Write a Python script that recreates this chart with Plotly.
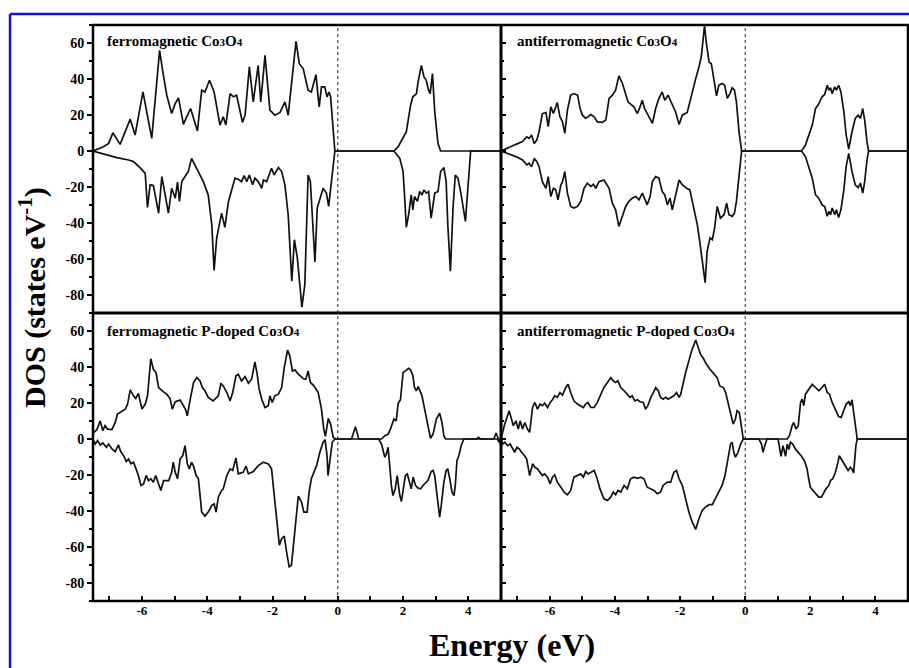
import plotly.graph_objects as go

# ---------------- data (energy in eV, DOS in states/eV) ----------------
fm_up_e = [-7.50,-7.18,-7.02,-6.89,-6.67,-6.36,-6.21,-5.97,-5.70,-5.46,-5.36,-5.24,-5.09,-4.98,-4.88,-4.73,-4.63,-4.51,-4.30,-4.17,-4.07,-3.93,-3.79,-3.61,-3.51,-3.43,-3.30,-3.20,-3.10,-2.92,-2.84,-2.71,-2.59,-2.44,-2.36,-2.23,-2.08,-1.93,-1.77,-1.62,-1.52,-1.28,-1.18,-1.06,-0.91,-0.81,-0.67,-0.57,-0.50,-0.40,-0.33,-0.27,-0.22,-0.09,0.0,
           1.72,1.85,2.00,2.10,2.23,2.30,2.41,2.46,2.56,2.64,2.71,2.78,2.83,2.90,2.97,3.07,3.15,5.0]
fm_up_v = [0,2.4,4.2,10.1,3.7,17.7,8.9,32.8,7.0,55.9,43.9,31.0,20.8,26.4,29.5,14.8,19.0,23.6,11.1,33.8,32.8,39.3,32.8,14.4,19.0,14.4,31.9,30.1,31.0,15.9,19.9,46.7,27.3,47.6,27.3,53.1,22.7,19.9,21.4,27.3,19.9,60.9,48.5,45.8,33.8,32.8,42.4,24.5,35.6,35.6,30.1,32.8,30.1,0,0,
           0,2.4,7.0,10.7,25.5,30.1,31.9,38.4,47.6,41.1,39.3,33.8,31.9,43.0,21.8,4.2,0,0]
fm_dn_e = [-7.50,-7.07,-6.77,-6.41,-6.26,-6.06,-5.90,-5.83,-5.75,-5.65,-5.49,-5.39,-5.29,-5.19,-5.09,-4.98,-4.91,-4.85,-4.78,-4.58,-4.48,-4.27,-4.12,-3.97,-3.86,-3.79,-3.71,-3.56,-3.46,-3.35,-3.15,-3.05,-2.95,-2.87,-2.79,-2.71,-2.61,-2.54,-2.44,-2.33,-2.28,-2.18,-2.03,-1.95,-1.82,-1.72,-1.62,-1.52,-1.41,-1.33,-1.24,-1.10,-1.01,-0.91,-0.84,-0.70,-0.63,-0.45,-0.35,-0.28,-0.22,-0.09,0.0,
           1.72,1.90,2.00,2.05,2.10,2.17,2.25,2.30,2.35,2.44,2.51,2.58,2.64,2.71,2.78,2.86,2.97,3.07,3.15,3.25,3.32,3.37,3.45,3.53,3.60,3.68,3.78,3.91,3.99,4.07,5.0]
fm_dn_v = [0,-2.2,-3.7,-5.0,-5.9,-9.2,-12.4,-31.4,-18.8,-19.2,-34.5,-14.2,-24.4,-34.5,-20.7,-26.2,-17.3,-28.0,-17.0,-11.4,-4.1,-11.4,-17.0,-24.4,-41.0,-66.4,-48.3,-34.5,-42.4,-28.0,-15.1,-15.7,-17.0,-13.7,-17.0,-13.3,-18.8,-15.1,-17.0,-20.7,-16.1,-17.0,-9.6,-13.3,-9.2,-11.4,-18.8,-35.4,-72.3,-49.3,-59.4,-86.7,-74.2,-13.3,-17.0,-61.6,-31.7,-20.7,-23.4,-30.8,-20.7,0,0,
           0,-4.1,-11.4,-26.2,-42.4,-35.4,-24.4,-32.7,-25.3,-28.0,-22.5,-24.4,-21.6,-23.4,-22.5,-37.3,-23.4,-22.5,-11.4,-9.2,-17.0,-41.0,-66.8,-31.7,-13.3,-15.1,-24.4,-39.1,-18.8,0,0]

af_up_e = [-7.50,-7.30,-7.04,-6.84,-6.71,-6.64,-6.56,-6.48,-6.40,-6.33,-6.23,-6.12,-6.05,-5.97,-5.89,-5.77,-5.69,-5.61,-5.54,-5.46,-5.36,-5.26,-5.15,-5.07,-5.00,-4.90,-4.83,-4.74,-4.64,-4.54,-4.39,-4.28,-4.18,-4.08,-3.98,-3.88,-3.77,-3.70,-3.60,-3.42,-3.31,-3.23,-3.16,-3.09,-2.99,-2.85,-2.75,-2.65,-2.55,-2.47,-2.37,-2.24,-2.14,-2.03,-1.93,-1.78,-1.63,-1.52,-1.42,-1.35,-1.29,-1.25,-1.19,-1.11,-1.04,-0.96,-0.88,-0.81,-0.71,-0.63,-0.55,-0.47,-0.40,-0.33,-0.27,-0.19,-0.11,0.0,
           1.73,1.85,1.95,2.06,2.16,2.24,2.31,2.36,2.44,2.52,2.57,2.62,2.67,2.75,2.80,2.87,2.94,3.03,3.10,3.18,3.28,3.38,3.47,3.54,3.61,3.67,3.74,3.79,5.0]
af_up_v = [0,1.8,3.7,5.2,7.9,7.0,8.9,4.2,6.1,10.7,20.8,21.4,13.5,24.5,20.8,26.9,19.0,16.2,9.8,22.7,31.0,31.9,31.0,23.6,19.9,18.1,19.0,20.3,19.0,16.2,15.9,17.2,29.2,31.0,33.8,41.7,37.5,32.8,27.3,24.5,20.8,24.5,28.2,23.6,20.3,15.3,23.6,29.2,32.8,28.2,31.0,25.5,21.8,14.8,19.9,21.4,32.8,40.2,46.7,52.2,62.4,69.7,59.6,49.4,48.5,40.2,30.6,36.5,37.5,36.5,29.2,31.9,35.1,33.8,27.3,10.7,0,0,
           0,3.3,8.9,14.4,23.6,25.5,28.2,30.1,31.4,36.5,33.8,35.1,31.9,35.6,33.8,36.5,32.8,21.8,8.9,1.1,10.7,18.1,19.9,18.1,23.6,17.2,5.2,0,0]
af_dn_e = [-7.50,-7.30,-7.04,-6.84,-6.71,-6.64,-6.56,-6.48,-6.40,-6.33,-6.23,-6.12,-6.05,-5.97,-5.89,-5.82,-5.75,-5.66,-5.61,-5.54,-5.46,-5.36,-5.26,-5.15,-5.05,-4.95,-4.85,-4.74,-4.66,-4.59,-4.49,-4.34,-4.18,-4.08,-3.98,-3.88,-3.77,-3.67,-3.57,-3.47,-3.36,-3.26,-3.16,-3.09,-3.01,-2.92,-2.85,-2.75,-2.65,-2.55,-2.47,-2.39,-2.31,-2.24,-2.14,-2.03,-1.93,-1.80,-1.70,-1.57,-1.47,-1.39,-1.32,-1.27,-1.23,-1.17,-1.08,-1.01,-0.94,-0.86,-0.76,-0.65,-0.57,-0.50,-0.40,-0.33,-0.27,-0.19,-0.11,0.0,
           1.73,1.85,1.95,2.06,2.16,2.24,2.31,2.36,2.44,2.52,2.57,2.62,2.67,2.75,2.80,2.87,2.94,3.03,3.10,3.18,3.28,3.38,3.47,3.54,3.61,3.67,3.74,3.79,5.0]
af_dn_v = [0,-1.3,-3.1,-5.0,-7.7,-6.8,-8.7,-4.1,-5.9,-8.7,-17.0,-20.7,-14.2,-25.3,-20.7,-21.6,-27.1,-18.8,-17.0,-11.4,-23.4,-30.8,-31.7,-30.8,-28.0,-20.7,-17.9,-19.7,-18.5,-20.7,-17.0,-16.1,-20.7,-29.0,-32.7,-41.9,-36.3,-30.8,-28.0,-26.2,-25.3,-27.1,-23.4,-26.2,-29.9,-25.3,-17.0,-14.2,-15.1,-22.5,-24.4,-29.9,-26.2,-32.7,-24.4,-16.1,-18.8,-20.7,-21.6,-33.6,-41.0,-51.1,-59.4,-67.7,-73.2,-55.7,-48.3,-49.3,-42.8,-30.8,-37.3,-35.4,-29.0,-35.4,-36.3,-34.5,-28.0,-15.1,0,0,
           0,-3.1,-8.7,-15.1,-24.4,-25.8,-28.0,-29.9,-30.8,-36.3,-33.6,-35.4,-31.7,-35.4,-32.7,-37.0,-32.7,-21.6,-8.7,-1.3,-11.4,-18.8,-20.3,-17.9,-23.4,-17.0,-5.0,0,0]

fmp_up_e = [-7.50,-7.38,-7.28,-7.20,-7.13,-7.05,-6.92,-6.82,-6.75,-6.67,-6.59,-6.51,-6.44,-6.36,-6.26,-6.19,-6.11,-6.00,-5.90,-5.83,-5.73,-5.65,-5.57,-5.49,-5.34,-5.24,-5.14,-5.07,-4.98,-4.83,-4.67,-4.61,-4.53,-4.42,-4.32,-4.22,-4.15,-4.07,-3.97,-3.82,-3.66,-3.58,-3.51,-3.40,-3.30,-3.22,-3.12,-3.05,-2.95,-2.84,-2.74,-2.64,-2.54,-2.47,-2.41,-2.33,-2.23,-2.13,-2.08,-2.01,-1.93,-1.82,-1.72,-1.64,-1.54,-1.47,-1.39,-1.31,-1.21,-1.06,-0.98,-0.91,-0.84,-0.73,-0.60,-0.50,-0.43,-0.38,-0.29,-0.22,-0.14,-0.06,0.0,
            0.42,0.54,0.64,1.34,1.44,1.54,1.62,1.72,1.79,1.85,1.92,2.00,2.07,2.17,2.23,2.30,2.35,2.41,2.46,2.51,2.58,2.66,2.76,2.84,2.92,3.02,3.12,3.19,3.25,3.30,4.25,4.31,4.37,4.78,4.85,4.92,5.0]
fmp_up_v = [3.3,5.2,10.1,4.6,7.4,5.5,5.2,9.2,13.8,14.8,15.7,16.6,19.4,27.3,24.0,22.5,25.3,16.6,19.4,24.0,44.6,38.7,36.9,28.6,26.2,24.9,22.5,16.6,20.7,21.6,16.6,12.9,21.2,31.4,34.1,32.3,28.6,26.8,23.1,21.2,24.0,31.0,29.5,25.8,21.2,25.8,35.1,36.0,32.3,34.7,31.0,33.2,42.8,36.0,27.7,22.1,17.5,18.5,24.0,20.3,24.0,24.9,28.6,39.7,49.4,46.1,37.8,38.4,36.0,33.6,33.2,37.8,31.4,29.5,25.8,16.6,5.5,1.5,11.4,8.3,0.9,0,0,
            0,6.8,0,0,1.8,2.6,5.9,11.1,10.1,19.9,21.8,36.9,37.8,39.3,38.4,35.1,28.6,26.8,29.2,26.8,24.0,16.6,7.4,0.4,2.8,11.1,14.4,9.2,1.8,0,0,0.9,0,0,3.3,0,0]
fmp_dn_e = [-7.50,-7.43,-7.36,-7.28,-7.20,-7.09,-7.02,-6.92,-6.82,-6.72,-6.65,-6.56,-6.48,-6.41,-6.34,-6.26,-6.18,-6.11,-6.03,-5.95,-5.87,-5.80,-5.73,-5.65,-5.58,-5.49,-5.42,-5.34,-5.18,-5.09,-5.04,-4.98,-4.91,-4.83,-4.75,-4.68,-4.61,-4.55,-4.48,-4.42,-4.34,-4.27,-4.17,-4.07,-3.97,-3.86,-3.79,-3.73,-3.66,-3.56,-3.51,-3.40,-3.30,-3.22,-3.12,-3.05,-2.90,-2.81,-2.74,-2.59,-2.44,-2.28,-2.13,-2.03,-1.96,-1.88,-1.79,-1.72,-1.64,-1.57,-1.49,-1.42,-1.35,-1.26,-1.21,-1.11,-1.04,-0.94,-0.88,-0.81,-0.73,-0.65,-0.55,-0.45,-0.39,-0.33,-0.30,-0.24,-0.17,-0.09,0.0,
            1.25,1.34,1.39,1.44,1.49,1.54,1.59,1.64,1.69,1.76,1.82,1.90,1.95,2.00,2.07,2.13,2.20,2.25,2.31,2.38,2.46,2.54,2.61,2.68,2.76,2.86,2.92,2.97,3.02,3.09,3.12,3.17,3.25,3.32,3.37,3.43,3.50,3.56,3.60,3.65,3.71,3.78,3.86,4.88,4.95,5.0]
fmp_dn_v = [-0.4,-2.8,-0.9,-3.3,-2.2,-4.6,-2.8,-5.5,-7.0,-3.3,-7.0,-9.2,-12.5,-11.1,-13.8,-12.9,-16.6,-20.3,-25.8,-24.9,-20.3,-23.1,-22.1,-24.0,-20.3,-24.4,-28.6,-23.1,-23.1,-18.5,-12.9,-18.5,-22.1,-11.1,-9.2,-3.7,-13.8,-16.6,-12.9,-15.1,-20.3,-22.1,-40.6,-42.8,-40.6,-36.9,-36.0,-40.6,-32.3,-28.6,-27.7,-20.3,-16.6,-17.5,-10.5,-19.4,-18.5,-15.1,-19.4,-18.1,-14.8,-12.9,-13.8,-16.6,-29.5,-40.6,-59.0,-55.4,-53.9,-62.7,-71.0,-70.1,-58.1,-42.4,-31.7,-35.1,-40.6,-40.6,-29.5,-22.1,-18.5,-14.8,-7.4,-1.8,-0.4,-9.2,-20.3,-11.1,-1.8,0,0,
            0,-2.8,-7.4,-10.1,-8.3,-4.6,-14.8,-25.8,-31.4,-27.7,-20.3,-31.4,-34.7,-27.7,-20.3,-19.4,-24.0,-27.7,-21.2,-25.8,-27.3,-27.7,-25.8,-24.4,-23.1,-18.1,-17.5,-20.3,-27.7,-36.9,-43.4,-36.9,-24.0,-17.5,-16.6,-22.1,-29.5,-31.4,-25.8,-12.0,-9.2,-3.7,0,0,-1.8,0]

afp_up_e = [-7.50,-7.40,-7.25,-7.18,-7.12,-7.04,-6.97,-6.91,-6.84,-6.77,-6.69,-6.62,-6.53,-6.46,-6.38,-6.30,-6.23,-6.16,-6.07,-5.99,-5.92,-5.85,-5.77,-5.69,-5.61,-5.51,-5.44,-5.36,-5.26,-5.15,-5.05,-4.97,-4.90,-4.83,-4.74,-4.64,-4.54,-4.44,-4.34,-4.23,-4.13,-4.05,-3.98,-3.91,-3.82,-3.72,-3.62,-3.54,-3.47,-3.39,-3.31,-3.23,-3.13,-3.06,-2.99,-2.90,-2.82,-2.75,-2.67,-2.60,-2.52,-2.44,-2.37,-2.29,-2.19,-2.11,-2.03,-1.98,-1.93,-1.83,-1.73,-1.63,-1.52,-1.45,-1.37,-1.27,-1.19,-1.08,-0.96,-0.86,-0.78,-0.67,-0.60,-0.53,-0.45,-0.37,-0.30,-0.25,-0.18,-0.12,-0.06,0.0,
            1.29,1.36,1.44,1.49,1.56,1.63,1.70,1.75,1.80,1.85,1.95,2.06,2.16,2.26,2.36,2.44,2.52,2.59,2.67,2.77,2.87,2.95,3.03,3.10,3.18,3.23,3.28,3.33,3.38,3.44,5.0]
afp_up_v = [0,7.4,15.7,11.1,7.4,10.1,5.5,10.1,5.5,9.2,5.5,3.7,17.5,20.3,16.6,19.4,18.5,19.9,17.5,20.3,21.8,24.0,23.1,25.8,24.4,28.6,30.4,25.8,21.2,19.4,18.5,17.5,19.4,20.3,17.5,17.5,20.3,24.9,28.6,31.4,34.1,32.3,31.4,32.3,28.6,26.8,24.9,23.1,24.0,21.2,21.8,20.7,20.3,16.6,18.5,23.1,25.8,28.6,26.8,23.1,22.1,23.1,22.1,23.1,24.0,25.8,23.1,24.9,29.5,36.9,43.4,49.8,55.0,51.7,47.0,44.3,41.5,38.7,36.0,34.1,29.5,28.6,25.8,20.3,14.8,8.3,11.1,15.7,14.8,6.5,0,0,
            0,1.8,7.4,9.2,5.5,7.4,20.3,22.1,18.5,24.9,27.7,30.4,28.6,26.8,28.6,30.4,25.8,24.9,20.3,16.6,12.5,12.0,16.6,19.4,20.7,18.5,21.8,14.8,5.5,0,0]
afp_dn_e = [-7.50,-7.45,-7.38,-7.30,-7.22,-7.15,-7.08,-7.01,-6.94,-6.87,-6.79,-6.71,-6.62,-6.53,-6.46,-6.38,-6.30,-6.23,-6.16,-6.07,-5.99,-5.92,-5.85,-5.77,-5.66,-5.56,-5.46,-5.36,-5.26,-5.15,-5.05,-4.97,-4.90,-4.83,-4.74,-4.64,-4.56,-4.46,-4.34,-4.23,-4.13,-4.05,-3.98,-3.91,-3.82,-3.72,-3.62,-3.52,-3.42,-3.31,-3.21,-3.11,-3.01,-2.90,-2.80,-2.70,-2.60,-2.52,-2.39,-2.29,-2.19,-2.11,-2.03,-1.93,-1.83,-1.73,-1.63,-1.52,-1.42,-1.32,-1.22,-1.11,-1.01,-0.91,-0.81,-0.71,-0.62,-0.53,-0.45,-0.40,-0.35,-0.30,-0.22,-0.14,-0.06,0.0,
            0.42,0.50,0.55,0.60,0.67,1.01,1.05,1.10,1.16,1.21,1.24,1.29,1.34,1.39,1.46,1.54,1.63,1.73,1.83,1.90,1.95,2.00,2.08,2.16,2.26,2.34,2.41,2.48,2.57,2.62,2.69,2.77,2.85,2.89,2.95,3.03,3.10,3.16,3.23,3.28,3.33,3.36,3.40,3.44,5.0]
afp_dn_v = [0,-2.8,-1.8,-3.7,-2.8,-5.5,-7.4,-4.6,-5.5,-7.4,-8.9,-11.1,-20.3,-13.8,-15.7,-16.6,-18.5,-20.3,-19.4,-21.2,-24.9,-21.2,-19.9,-24.0,-26.8,-29.5,-31.0,-28.6,-21.2,-20.3,-19.4,-21.2,-18.1,-19.4,-18.5,-17.5,-21.2,-27.7,-33.2,-34.1,-32.3,-29.5,-31.0,-28.6,-29.5,-25.8,-27.7,-22.1,-21.2,-21.8,-21.2,-22.1,-26.8,-27.7,-28.6,-30.4,-29.5,-25.8,-24.0,-24.0,-18.5,-17.5,-22.1,-25.8,-33.2,-40.6,-46.1,-50.2,-44.3,-39.7,-37.8,-36.5,-36.5,-33.2,-29.5,-25.8,-20.3,-11.1,-2.8,-1.8,-7.4,-10.1,-7.4,-2.8,0,0,
            0,-2.8,-7.4,-3.7,0,0,-4.6,-9.6,-3.7,-7.4,-9.6,-2.8,-5.9,-1.8,-2.8,-5.5,-7.4,-9.6,-12.5,-16.6,-22.1,-26.8,-28.6,-30.4,-32.3,-32.3,-29.5,-27.7,-25.8,-23.1,-22.1,-18.5,-12.9,-9.2,-11.1,-13.8,-15.7,-17.5,-15.7,-16.6,-18.8,-9.2,-3.7,0,0]

panel_titles = ["ferromagnetic Co3O4", "antiferromagnetic Co3O4",
                "ferromagnetic P-doped Co3O4", "antiferromagnetic P-doped Co3O4"]
x_ticks = [-6, -4, -2, 0, 2, 4]
y_ticks = [-80, -60, -40, -20, 0, 20, 40, 60]

panels = [
    (fm_up_e, fm_up_v, fm_dn_e, fm_dn_v),
    (af_up_e, af_up_v, af_dn_e, af_dn_v),
    (fmp_up_e, fmp_up_v, fmp_dn_e, fmp_dn_v),
    (afp_up_e, afp_up_v, afp_dn_e, afp_dn_v),
]
for p in panels:
    assert len(p[0]) == len(p[1]) and len(p[2]) == len(p[3]), [len(a) for a in p]

# ---------------- figure ----------------
W, H = 909, 668
SERIF = "Liberation Serif, Times New Roman, serif"
fig = go.Figure()

L, MX, R = 93, 501, 908
T, MY, B = 25, 313, 601
xdom = [[L / W, MX / W], [MX / W, R / W]]
ydom = [[1 - MY / H, 1 - T / H], [1 - B / H, 1 - MY / H]]

for i, (ue, uv, de, dv) in enumerate(panels):
    sfx = "" if i == 0 else str(i + 1)
    for ex, vy in ((ue, uv), (de, dv)):
        fig.add_trace(go.Scatter(x=ex, y=vy, mode="lines", xaxis="x" + sfx, yaxis="y" + sfx,
                                 line=dict(color="#111111", width=1.7),
                                 showlegend=False, hoverinfo="skip"))
    row, col = divmod(i, 2)
    bottom = row == 1
    left = col == 0
    fig.layout["xaxis" + sfx] = dict(
        domain=xdom[col], anchor="y" + sfx, range=[-7.5, 5],
        showline=False, showgrid=False, zeroline=False,
        tickmode="array", tickvals=x_ticks, ticktext=[str(t) for t in x_ticks],
        ticks="inside" if bottom else "", ticklen=5, tickwidth=1.5, tickcolor="black",
        minor=dict(dtick=1, tick0=0, ticks="inside" if bottom else "", ticklen=5, tickwidth=1.5, tickcolor="black"),
        showticklabels=bottom,
        tickfont=dict(family=SERIF, size=13, color="black", weight="bold"),
    )
    fig.layout["yaxis" + sfx] = dict(
        domain=ydom[row], anchor="x" + sfx, range=[-90, 70],
        showline=False, showgrid=False, zeroline=False,
        tickmode="array", tickvals=y_ticks, ticktext=[str(t) for t in y_ticks],
        ticks="outside" if left else "inside", ticklen=5, tickwidth=1.5, tickcolor="black",
        minor=dict(dtick=10, tick0=0, ticks="outside" if left else "inside", ticklen=3, tickwidth=1.5, tickcolor="black"),
        showticklabels=left,
        tickfont=dict(family=SERIF, size=14, color="black", weight="bold"),
    )
    # Fermi level (dotted)
    fig.add_shape(type="line", xref="x" + sfx, yref="y" + sfx + " domain",
                  x0=0, x1=0, y0=0, y1=1, line=dict(color="#222222", width=1, dash="dot"))
    # panel label
    name = panel_titles[i].replace("Co3O4", 'Co<span style="font-size:11px">3</span>O<span style="font-size:11px">4</span>')
    fig.add_annotation(x=(105 if left else 515) / W, y=1 - (41 if not bottom else 331) / H,
                       xref="paper", yref="paper", xanchor="left", yanchor="middle",
                       text="<b>" + name + "</b>", showarrow=False,
                       font=dict(family=SERIF, size=15, color="black"))

# panel frames
frame = dict(color="black", width=2.5)
fig.add_shape(type="rect", xref="paper", yref="paper", x0=L / W, x1=R / W, y0=1 - B / H, y1=1 - T / H,
              line=frame, layer="above")
fig.add_shape(type="line", xref="paper", yref="paper", x0=L / W, x1=R / W, y0=1 - MY / H, y1=1 - MY / H,
              line=dict(color="black", width=3), layer="above")
fig.add_shape(type="line", xref="paper", yref="paper", x0=MX / W, x1=MX / W, y0=1 - B / H, y1=1 - T / H,
              line=dict(color="black", width=3), layer="above")

# axis titles
fig.add_annotation(x=32 / W, y=1 - 298 / H, xref="paper", yref="paper", textangle=-90,
                   text="<b>DOS (states eV<sup>-1</sup>)</b>", showarrow=False,
                   xanchor="center", yanchor="middle",
                   font=dict(family=SERIF, size=30, color="black"))
fig.add_annotation(x=512 / W, y=1 - 645 / H, xref="paper", yref="paper",
                   text="<b>Energy (eV)</b>", showarrow=False,
                   xanchor="center", yanchor="middle",
                   font=dict(family=SERIF, size=32, color="black"))

# blue frame (top and left edges visible)
fig.add_shape(type="line", xref="paper", yref="paper", x0=10 / W, x1=1.0, y0=1 - 14 / H, y1=1 - 14 / H,
              line=dict(color="#1414d2", width=2.5))
fig.add_shape(type="line", xref="paper", yref="paper", x0=10 / W, x1=10 / W, y0=1 - 14 / H, y1=0,
              line=dict(color="#1414d2", width=2.5))

fig.update_layout(width=W, height=H, margin=dict(l=0, r=0, t=0, b=0),
                  paper_bgcolor="white", plot_bgcolor="white", showlegend=False)

fig.write_html("out.html")
